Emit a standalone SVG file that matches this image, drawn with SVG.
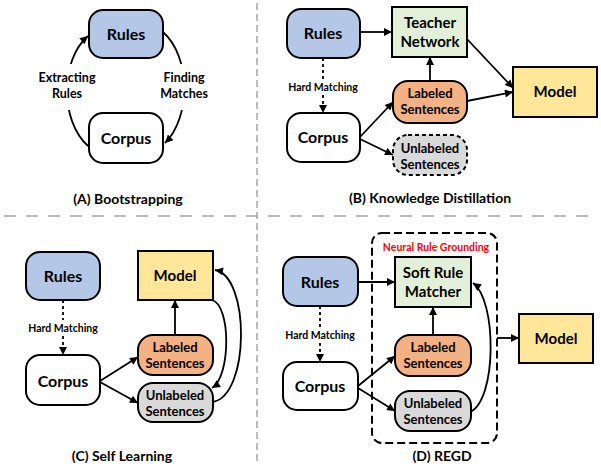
<svg xmlns="http://www.w3.org/2000/svg" width="601" height="468" viewBox="0 0 601 468">
<style>
text{font-family:Lato,"Liberation Sans",sans-serif;font-weight:bold;fill:#000;text-anchor:middle}
.box{stroke:#000;stroke-width:2}
.blue{fill:#b4c7e7}.green{fill:#e2f0d9}.yellow{fill:#ffe699}.orange{fill:#f4b183}.gray{fill:#d9d9d9}.white{fill:#fff}
.dashbox{stroke-dasharray:4 3}
.n{font-size:16px}.m{font-size:15px}.s{font-size:13px}.lab{font-size:12.5px}.hm{font-size:10.5px}.t{font-size:14px}
.red{font-size:10.5px;fill:#ff0000}
.c{fill:none;stroke:#000;stroke-width:1.8}
.dash{stroke-dasharray:3 3}
.div{stroke:#a6a6a6;stroke-width:1.5;fill:none}
</style>
<defs>
<marker id="arr" viewBox="0 0 10 10" refX="10" refY="5" markerWidth="9" markerHeight="8" markerUnits="userSpaceOnUse" orient="auto">
<path d="M0,0 L10,5 L0,10 z" fill="#000"/>
</marker>
</defs>

<g id="dividers">
<line class="div" x1="257" y1="3" x2="257" y2="465" stroke-dasharray="7 4"/>
<line class="div" x1="4" y1="216" x2="598" y2="216" stroke-dasharray="12 10"/>
</g>

<g id="connectors">
<!-- A -->
<path class="c" d="M88,146 C60,121 60,60 88,36" marker-end="url(#arr)"/>
<path class="c" d="M163,32 C191,57 191,117 165,143" marker-end="url(#arr)"/>
<rect x="34" y="64" width="66" height="46" fill="#fff"/>
<rect x="152" y="64" width="66" height="46" fill="#fff"/>
<!-- B -->
<line class="c" x1="360" y1="32" x2="392" y2="32" marker-end="url(#arr)"/>
<line class="c dash" x1="323" y1="58" x2="323" y2="79"/>
<line class="c dash" x1="323" y1="95" x2="323" y2="113" marker-end="url(#arr)"/>
<line class="c" x1="430" y1="81" x2="430" y2="57" marker-end="url(#arr)"/>
<line class="c" x1="467" y1="39" x2="513" y2="88" marker-end="url(#arr)"/>
<line class="c" x1="467" y1="101" x2="513" y2="92" marker-end="url(#arr)"/>
<line class="c" x1="360" y1="137" x2="393" y2="102" marker-end="url(#arr)"/>
<line class="c" x1="360" y1="139" x2="393" y2="155" marker-end="url(#arr)"/>
<!-- C -->
<line class="c dash" x1="63" y1="300" x2="63" y2="320"/>
<line class="c dash" x1="63" y1="336" x2="63" y2="355" marker-end="url(#arr)"/>
<line class="c" x1="100" y1="381" x2="138" y2="357" marker-end="url(#arr)"/>
<line class="c" x1="100" y1="382" x2="138" y2="403" marker-end="url(#arr)"/>
<line class="c" x1="175" y1="335" x2="175" y2="300" marker-end="url(#arr)"/>
<path class="c" d="M212,300 C231,305 231,376 212,388" marker-end="url(#arr)"/>
<path class="c" d="M213,402 C250,395 250,276 215,270" marker-end="url(#arr)"/>
<!-- D -->
<line class="c" x1="358" y1="282" x2="395" y2="282" marker-end="url(#arr)"/>
<line class="c dash" x1="320" y1="306" x2="320" y2="327"/>
<line class="c dash" x1="320" y1="343" x2="320" y2="362" marker-end="url(#arr)"/>
<line class="c" x1="433" y1="335" x2="433" y2="307" marker-end="url(#arr)"/>
<line class="c" x1="358" y1="386" x2="395" y2="356" marker-end="url(#arr)"/>
<line class="c" x1="358" y1="388" x2="395" y2="411" marker-end="url(#arr)"/>
<path class="c" d="M470,412 C497,400 497,300 473,283" marker-end="url(#arr)"/>
<line class="c" x1="497" y1="338" x2="519" y2="338" marker-end="url(#arr)"/>
</g>

<g id="A-labels">
<text class="lab" x="67" y="82">Extracting</text>
<text class="lab" x="67" y="98">Rules</text>
<text class="lab" x="184" y="82">Finding</text>
<text class="lab" x="184" y="98">Matches</text>
<text class="t" x="128" y="204">(A) Bootstrapping</text>
</g>
<g id="A-rules"><rect class="box blue" x="89" y="10" width="74" height="48" rx="14"/><text class="n" x="126" y="40">Rules</text></g>
<g id="A-corpus"><rect class="box white" x="89" y="113" width="74" height="50" rx="14"/><text class="n" x="126" y="144">Corpus</text></g>

<g id="B-rules"><rect class="box blue" x="287" y="9" width="73" height="49" rx="14"/><text class="n" x="323" y="39">Rules</text></g>
<g id="B-teacher"><rect class="box green" x="392" y="7" width="75" height="50"/><text class="m" x="430" y="28">Teacher</text><text class="m" x="430" y="47">Network</text></g>
<g id="B-model"><rect class="box yellow" x="513" y="67" width="84" height="50"/><text class="m" x="555" y="97">Model</text></g>
<g id="B-labeled"><rect class="box orange" x="393" y="81" width="74" height="42" rx="15"/><text class="s" x="430" y="98">Labeled</text><text class="s" x="430" y="114">Sentences</text></g>
<g id="B-corpus"><rect class="box white" x="287" y="113" width="73" height="49" rx="14"/><text class="n" x="323" y="143">Corpus</text></g>
<g id="B-unlabeled"><rect class="box gray dashbox" x="393" y="135" width="74" height="40" rx="15"/><text class="s" x="430" y="153">Unlabeled</text><text class="s" x="430" y="169">Sentences</text></g>
<text class="hm" x="323" y="91">Hard Matching</text>
<text class="t" x="430" y="203">(B) Knowledge Distillation</text>

<g id="C-rules"><rect class="box blue" x="26" y="252" width="74" height="48" rx="14"/><text class="n" x="63" y="282">Rules</text></g>
<g id="C-model"><rect class="box yellow" x="138" y="251" width="75" height="49"/><text class="m" x="175" y="281">Model</text></g>
<g id="C-labeled"><rect class="box orange" x="138" y="335" width="75" height="40" rx="15"/><text class="s" x="175" y="352">Labeled</text><text class="s" x="175" y="368">Sentences</text></g>
<g id="C-corpus"><rect class="box white" x="26" y="355" width="74" height="50" rx="14"/><text class="n" x="63" y="387">Corpus</text></g>
<g id="C-unlabeled"><rect class="box gray" x="138" y="383" width="75" height="39" rx="15"/><text class="s" x="175" y="400">Unlabeled</text><text class="s" x="175" y="416">Sentences</text></g>
<text class="hm" x="63" y="332">Hard Matching</text>
<text class="t" x="122" y="461">(C) Self Learning</text>

<g id="D-container"><rect x="372" y="233" width="125" height="210" rx="10" fill="none" stroke="#000" stroke-width="2" stroke-dasharray="8 4"/><text class="red" x="436" y="251">Neural Rule Grounding</text></g>
<g id="D-rules"><rect class="box blue" x="283" y="257" width="75" height="49" rx="14"/><text class="n" x="320" y="288">Rules</text></g>
<g id="D-matcher"><rect class="box green" x="395" y="257" width="76" height="50"/><text class="m" x="433" y="278">Soft Rule</text><text class="m" x="433" y="297">Matcher</text></g>
<g id="D-labeled"><rect class="box orange" x="395" y="335" width="76" height="41" rx="15"/><text class="s" x="433" y="352">Labeled</text><text class="s" x="433" y="368">Sentences</text></g>
<g id="D-corpus"><rect class="box white" x="283" y="362" width="75" height="48" rx="14"/><text class="n" x="320" y="392">Corpus</text></g>
<g id="D-unlabeled"><rect class="box gray" x="395" y="391" width="76" height="40" rx="15"/><text class="s" x="433" y="408">Unlabeled</text><text class="s" x="433" y="424">Sentences</text></g>
<g id="D-model"><rect class="box yellow" x="519" y="314" width="74" height="49"/><text class="m" x="556" y="344">Model</text></g>
<text class="hm" x="320" y="339">Hard Matching</text>
<text class="t" x="442" y="461">(D) REGD</text>
</svg>
